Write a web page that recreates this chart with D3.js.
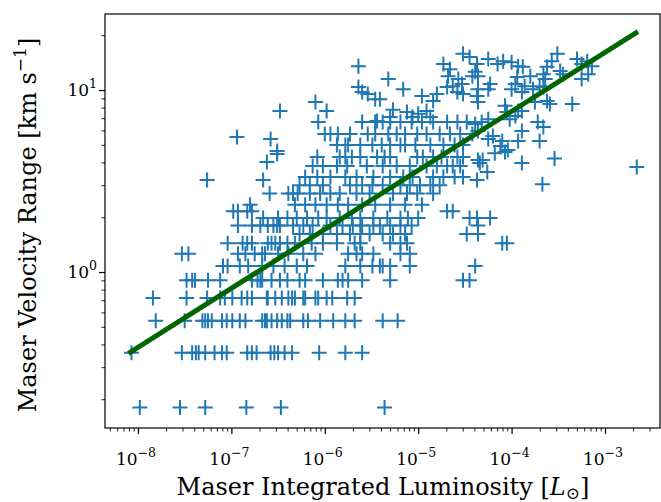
<!DOCTYPE html>
<html><head><meta charset="utf-8">
<script src="https://cdn.jsdelivr.net/npm/d3@7"></script>
<style>
body{margin:0;background:#fff}
svg{display:block}
text{font-family:"DejaVu Serif",serif;fill:#000}
</style>
</head><body>
<svg id="chart" width="661" height="502"></svg>
<script>
// ---- axis limits and ticks (log10 exponents) ----
const xLimitExp = [-8.353, -2.411];
const yLimitExp = [-0.857, 1.4176];
const xTickExp = [-8, -7, -6, -5, -4, -3];
const yTickExp = [0, 1];

// ---- power-law fit line: log10 luminosity and velocity range at its ends ----
const fitLogLum = [-8.08, -2.67];
const fitVel = [0.363, 20.6];

// ---- maser points: [log10 integrated luminosity (Lsun), velocity range (km/s)] ----
const pointsLowRows = [
  // 0.18 km/s
  [-7.98,0.18],[-7.55,0.18],[-7.28,0.18],[-6.84,0.18],[-6.47,0.18],[-5.36,0.18],
  // 0.36 km/s
  [-8.07,0.36],[-7.53,0.36],[-7.42,0.36],[-7.38,0.36],[-7.35,0.36],[-7.28,0.36],[-7.18,0.36],[-7.10,0.36],[-7.05,0.36],
  [-6.83,0.36],[-6.78,0.36],[-6.73,0.36],[-6.58,0.36],[-6.54,0.36],[-6.50,0.36],[-6.43,0.36],[-6.35,0.36],[-6.06,0.36],[-5.78,0.36],[-5.60,0.36],
  // 0.54 km/s
  [-7.81,0.54],[-7.50,0.54],[-7.31,0.54],[-7.28,0.54],[-7.25,0.54],[-7.21,0.54],[-7.10,0.54],[-7.05,0.54],[-6.99,0.54],
  [-6.91,0.54],[-6.85,0.54],[-6.67,0.54],[-6.64,0.54],[-6.62,0.54],[-6.57,0.54],[-6.51,0.54],[-6.46,0.54],[-6.40,0.54],
  [-6.37,0.54],[-6.23,0.54],[-6.18,0.54],[-6.05,0.54],[-5.91,0.54],[-5.78,0.54],[-5.68,0.54],[-5.38,0.54],[-5.22,0.54],
  // 0.72 km/s
  [-7.84,0.72],[-7.48,0.72],[-7.26,0.72],[-7.12,0.72],[-7.07,0.72],[-6.99,0.72],[-6.89,0.72],[-6.83,0.72],[-6.78,0.72],
  [-6.62,0.72],[-6.61,0.72],[-6.53,0.72],[-6.46,0.72],[-6.39,0.72],[-6.35,0.72],[-6.32,0.72],[-6.23,0.72],[-6.21,0.72],
  [-6.10,0.72],[-6.07,0.72],[-5.98,0.72],[-5.92,0.72],[-5.76,0.72],[-5.68,0.72]
];
const pointsMidRows = [
  // 0.90 km/s
  [-7.48,0.9],[-7.42,0.9],[-7.39,0.9],[-7.25,0.9],[-7.12,0.9],[-6.78,0.9],[-6.72,0.9],[-6.69,0.9],[-6.67,0.9],[-6.57,0.9],
  [-6.48,0.9],[-6.40,0.9],[-6.27,0.9],[-6.21,0.9],[-6.02,0.9],[-5.86,0.9],[-5.81,0.9],[-5.75,0.9],[-5.60,0.9],[-5.30,0.9],[-4.52,0.9],[-4.45,0.9],
  // 1.08 km/s
  [-7.09,1.08],[-7.04,1.08],[-6.91,1.08],[-6.82,1.08],[-6.67,1.08],[-6.55,1.08],[-6.43,1.08],[-6.30,1.08],[-6.19,1.08],
  [-5.78,1.08],[-5.62,1.08],[-5.49,1.08],[-5.41,1.08],[-5.38,1.08],[-5.30,1.08],[-5.09,1.08],[-4.39,1.08],
  // 1.26 km/s
  [-7.53,1.26],[-7.46,1.26],[-6.93,1.26],[-6.85,1.26],[-6.75,1.26],[-6.67,1.26],[-6.64,1.26],[-6.50,1.26],[-6.39,1.26],
  [-6.23,1.26],[-6.10,1.26],[-5.75,1.26],[-5.66,1.26],[-5.60,1.26],[-5.48,1.26],[-5.19,1.26],[-5.09,1.26],
  // 1.44 km/s
  [-7.04,1.44],[-6.88,1.44],[-6.83,1.44],[-6.78,1.44],[-6.61,1.44],[-6.57,1.44],[-6.53,1.44],[-6.48,1.44],[-6.40,1.44],[-6.32,1.44],
  [-6.14,1.44],[-6.02,1.44],[-5.87,1.44],[-5.68,1.44],[-5.62,1.44],[-5.30,1.44],[-5.19,1.44],[-5.12,1.44],[-4.10,1.44],[-4.05,1.44],
  // 1.62 km/s
  [-6.27,1.62],[-6.16,1.62],[-6.02,1.62],[-5.87,1.62],[-5.73,1.62],[-5.62,1.62],[-5.52,1.62],[-5.38,1.62],[-5.27,1.62],[-5.14,1.62],[-4.48,1.62],[-4.36,1.62],
  // 1.80 km/s
  [-6.93,1.8],[-6.78,1.8],[-6.69,1.8],[-6.61,1.8],[-6.55,1.8],[-6.51,1.8],[-6.48,1.8],[-6.34,1.8],[-6.23,1.8],[-6.13,1.8],
  [-5.94,1.8],[-5.81,1.8],[-5.70,1.8],[-5.60,1.8],[-5.48,1.8],[-5.41,1.8],[-5.30,1.8],[-5.19,1.8],[-5.07,1.8],[-4.36,1.8],
  // 1.98 km/s
  [-6.66,1.98],[-6.50,1.98],[-6.40,1.98],[-6.30,1.98],[-6.19,1.98],[-6.07,1.98],[-5.98,1.98],[-5.84,1.98],[-5.71,1.98],
  [-5.62,1.98],[-5.48,1.98],[-5.33,1.98],[-5.19,1.98],[-5.11,1.98],[-5.00,1.98],[-4.45,1.98],[-4.37,1.98],[-4.23,1.98],
  // 2.16 km/s
  [-6.98,2.16],[-6.93,2.16],[-6.83,2.16],[-6.78,2.16],[-4.69,2.16],[-4.63,2.16],
  // 2.34 km/s
  [-6.80,2.34],[-6.32,2.34],[-6.21,2.34],[-6.10,2.34],[-5.98,2.34],[-5.86,2.34],[-5.75,2.34],[-5.60,2.34],[-5.46,2.34],[-5.30,2.34],[-5.14,2.34],[-4.96,2.34]
];
const pointsUpper = [
  // ~2.7 km/s
  [-6.59,2.7],[-6.39,2.7],[-6.34,2.7],[-6.29,2.7],[-6.16,2.7],[-6.05,2.7],[-5.94,2.7],[-5.84,2.7],[-5.66,2.7],[-5.52,2.7],[-5.27,2.7],[-5.12,2.7],[-5.01,2.7],[-4.84,2.7],
  // ~3.0-3.2 km/s
  [-6.27,3.0],[-6.16,3.0],[-6.02,3.0],[-5.73,3.0],[-5.60,3.0],[-5.49,3.0],[-5.38,3.0],[-5.19,3.0],[-5.09,3.0],[-4.98,3.0],[-4.87,3.0],[-4.77,3.0],[-3.67,3.04],
  [-4.37,3.2],[-7.26,3.2],[-6.66,3.2],
  // ~3.3-3.8 km/s
  [-6.21,3.33],[-6.08,3.33],[-5.94,3.33],[-5.78,3.33],[-5.66,3.33],[-5.48,3.33],[-5.30,3.33],[-5.16,3.33],[-5.06,3.33],[-4.84,3.33],[-4.73,3.33],[-4.61,3.33],[-4.52,3.33],
  [-6.13,3.82],[-6.02,3.82],[-5.87,3.82],[-5.76,3.82],[-5.55,3.82],[-5.38,3.82],[-5.23,3.82],[-5.09,3.82],[-4.91,3.82],[-4.80,3.82],[-4.69,3.82],[-4.63,3.82],[-4.55,3.82],
  [-6.62,4.02],[-2.66,3.78],[-4.26,3.54],
  // ~4.3 km/s
  [-6.08,4.28],[-5.84,4.28],[-5.78,4.28],[-5.71,4.28],[-5.62,4.28],[-5.44,4.28],[-5.36,4.28],[-5.30,4.28],[-5.01,4.28],[-4.95,4.28],[-4.84,4.28],[-4.75,4.28],[-4.58,4.28],[-4.52,4.28],
  [-6.51,4.45],[-4.36,4.12],[-4.31,4.12],[-4.34,3.97],[-3.89,3.97],[-3.54,4.2],[-4.18,4.5],[-4.07,4.56],[-4.04,4.68],
  // ~5 km/s
  [-5.87,4.98],[-5.78,4.98],[-5.75,4.98],[-5.62,4.98],[-5.49,4.98],[-5.39,4.98],[-5.30,4.98],[-5.19,4.98],[-5.14,4.98],[-5.03,4.98],[-4.87,4.98],[-4.73,4.98],[-4.61,4.98],[-4.52,4.98],
  [-6.51,4.62],[-4.12,4.92],
  // ~5.7 km/s
  [-6.00,5.73],[-5.94,5.73],[-5.86,5.73],[-5.73,5.73],[-5.54,5.73],[-5.46,5.73],[-5.32,5.73],[-5.23,5.73],[-5.14,5.73],[-5.01,5.73],[-4.91,5.73],[-4.77,5.73],[-4.66,5.73],[-4.55,5.73],[-4.42,5.73],
  [-3.89,5.95],[-3.93,5.25],[-3.70,5.25],[-4.10,5.25],[-4.20,5.59],[-4.25,5.38],[-4.36,5.95],[-6.94,5.52],[-6.58,5.38],
  // ~6.7 km/s
  [-6.07,6.67],[-5.60,6.67],[-5.46,6.67],[-5.38,6.67],[-5.30,6.67],[-5.19,6.67],[-5.07,6.67],[-4.96,6.67],[-4.84,6.67],[-4.69,6.67],[-4.58,6.67],[-4.48,6.67],
  [-3.72,6.67],[-3.66,6.26],[-4.25,6.9],[-4.32,6.67],[-4.39,6.5],
  // ~7-8 km/s
  [-5.98,7.66],[-5.27,7.8],[-5.12,7.57],[-5.06,7.1],[-5.00,7.4],[-4.91,7.66],[-4.87,7.1],[-5.30,7.1],[-5.44,6.75],
  [-4.07,8.2],[-4.05,7.57],[-3.93,7.66],[-3.96,7.2],[-4.02,6.9],[-3.89,7.66],[-6.48,7.66],
  // ~8.5 km/s
  [-6.10,8.6],[-3.75,8.6],[-3.62,8.7],[-3.59,8.38],[-3.35,8.38],[-4.36,8.6],
  // ~9-11 km/s
  [-5.64,10.4],[-5.60,9.75],[-5.54,9.5],[-5.46,8.9],[-5.41,8.9],[-5.16,10.1],[-4.96,9.27],[-4.80,9.5],[-4.84,8.7],
  [-4.69,10.4],[-4.63,10.5],[-4.58,9.75],[-4.52,9.5],[-3.80,11.9],[-3.94,11.8],[-3.96,10.8],[-3.86,10.5],[-3.77,10.1],
  [-4.00,10.1],[-3.89,9.75],[-3.70,10.5],[-3.66,10.4],[-4.23,10.8],[-4.25,10.1],[-4.36,10.1],[-4.37,9.27],
  // ~11-16 km/s
  [-5.64,13.5],[-5.32,11.5],[-4.73,13.9],[-4.66,13.0],[-4.68,11.9],[-4.57,11.5],[-4.53,10.8],[-4.42,11.9],[-4.37,13.9],
  [-4.39,12.6],[-4.36,11.9],[-4.15,13.9],[-4.09,14.4],[-4.00,14.2],[-3.93,13.5],[-3.88,13.4],[-4.25,14.8],[-3.57,14.4],
  [-3.62,13.4],[-3.66,12.2],[-3.64,11.5],[-3.48,12.7],[-3.45,12.2],[-3.30,14.8],[-3.25,13.9],[-3.19,14.4],[-3.14,13.5],
  [-3.18,12.2],[-3.25,11.5],[-4.52,15.8],[-4.45,15.2],[-3.51,15.8]
];

// ---- layout ----
const W = 661, H = 502;
const plot = {left: 105, right: 660, top: 14, bottom: 428};
const svg = d3.select("#chart");

const x = d3.scaleLog().domain(xLimitExp.map(e => Math.pow(10, e))).range([plot.left, plot.right]);
const y = d3.scaleLog().domain(yLimitExp.map(e => Math.pow(10, e))).range([plot.bottom, plot.top]);

svg.append("rect").attr("width", W).attr("height", H).attr("fill", "#fff");

svg.append("clipPath").attr("id", "clip").append("rect")
  .attr("x", plot.left).attr("y", plot.top)
  .attr("width", plot.right - plot.left).attr("height", plot.bottom - plot.top);

// minor tick values
function minorTicks(limits) {
  const out = [];
  for (let e = Math.floor(limits[0]); e <= Math.ceil(limits[1]); e++) {
    for (let m = 2; m <= 9; m++) {
      const v = m * Math.pow(10, e);
      const lv = Math.log10(v);
      if (lv >= limits[0] && lv <= limits[1]) out.push(v);
    }
  }
  return out;
}

// points
const allPoints = pointsLowRows.concat(pointsMidRows, pointsUpper);
const g = svg.append("g").attr("clip-path", "url(#clip)");
const arm = 7.5;
g.selectAll("path.pt").data(allPoints).join("path")
  .attr("class", "pt")
  .attr("d", d => {
    const px = x(Math.pow(10, d[0])), py = y(d[1]);
    return `M${px - arm},${py}H${px + arm}M${px},${py - arm}V${py + arm}`;
  })
  .attr("stroke", "#1f77b4").attr("stroke-width", 2).attr("fill", "none");

// fit line
const fitData = fitLogLum.map((l, i) => [Math.pow(10, l), fitVel[i]]);
g.append("path").datum(fitData)
  .attr("d", d3.line().x(d => x(d[0])).y(d => y(d[1])))
  .attr("stroke", "#006400").attr("stroke-width", 5).attr("stroke-linecap", "square").attr("fill", "none");

// axes
const xMajor = xTickExp.map(e => Math.pow(10, e));
const yMajor = yTickExp.map(e => Math.pow(10, e));

function styleAxis(sel, w) {
  sel.select(".domain").remove();
  sel.selectAll(".tick line").attr("stroke", "#000").attr("stroke-width", w);
  sel.selectAll(".tick text").remove();
}

svg.append("g").attr("transform", `translate(0,${plot.bottom})`)
  .call(d3.axisBottom(x).tickValues(minorTicks(xLimitExp)).tickSize(3.5).tickFormat(""))
  .call(s => styleAxis(s, 0.9));
svg.append("g").attr("transform", `translate(0,${plot.bottom})`)
  .call(d3.axisBottom(x).tickValues(xMajor).tickSize(6).tickFormat(""))
  .call(s => styleAxis(s, 1.2));
svg.append("g").attr("transform", `translate(${plot.left},0)`)
  .call(d3.axisLeft(y).tickValues(minorTicks(yLimitExp)).tickSize(3.5).tickFormat(""))
  .call(s => styleAxis(s, 0.9));
svg.append("g").attr("transform", `translate(${plot.left},0)`)
  .call(d3.axisLeft(y).tickValues(yMajor).tickSize(6).tickFormat(""))
  .call(s => styleAxis(s, 1.2));

// tick labels with superscripts
xTickExp.forEach(e => {
  const t = svg.append("text").attr("x", x(Math.pow(10, e)) - 2).attr("y", 465)
    .attr("text-anchor", "middle").style("font-size", "17px");
  t.append("tspan").text("10");
  t.append("tspan").attr("dy", -8).style("font-size", "12.5px").text(e < 0 ? "\u2212" + (-e) : String(e));
});
yTickExp.forEach(e => {
  const t = svg.append("text").attr("x", 97).attr("y", y(Math.pow(10, e)) + 6)
    .attr("text-anchor", "end").style("font-size", "17px");
  t.append("tspan").text("10");
  t.append("tspan").attr("dy", -8).style("font-size", "12.5px").text(e < 0 ? "\u2212" + (-e) : String(e));
});

// frame
svg.append("rect")
  .attr("x", plot.left).attr("y", plot.top)
  .attr("width", plot.right - plot.left).attr("height", plot.bottom - plot.top)
  .attr("fill", "none").attr("stroke", "#000").attr("stroke-width", 1.2);

// axis labels
const xl = svg.append("text").attr("x", 383).attr("y", 495)
  .attr("text-anchor", "middle").style("font-size", "24px");
xl.append("tspan").text("Maser Integrated Luminosity [");
xl.append("tspan").style("font-style", "italic").text("L");
xl.append("tspan").attr("dy", 4).style("font-size", "17px").text("\u2299");
xl.append("tspan").attr("dy", -4).text("]");

const yl = svg.append("text")
  .attr("transform", `translate(36,225) rotate(-90)`)
  .attr("text-anchor", "middle").style("font-size", "24px");
yl.append("tspan").text("Maser Velocity Range [km s");
yl.append("tspan").attr("dy", -10).style("font-size", "17px").text("\u22121");
yl.append("tspan").attr("dy", 10).text("]");
</script>
</body></html>
